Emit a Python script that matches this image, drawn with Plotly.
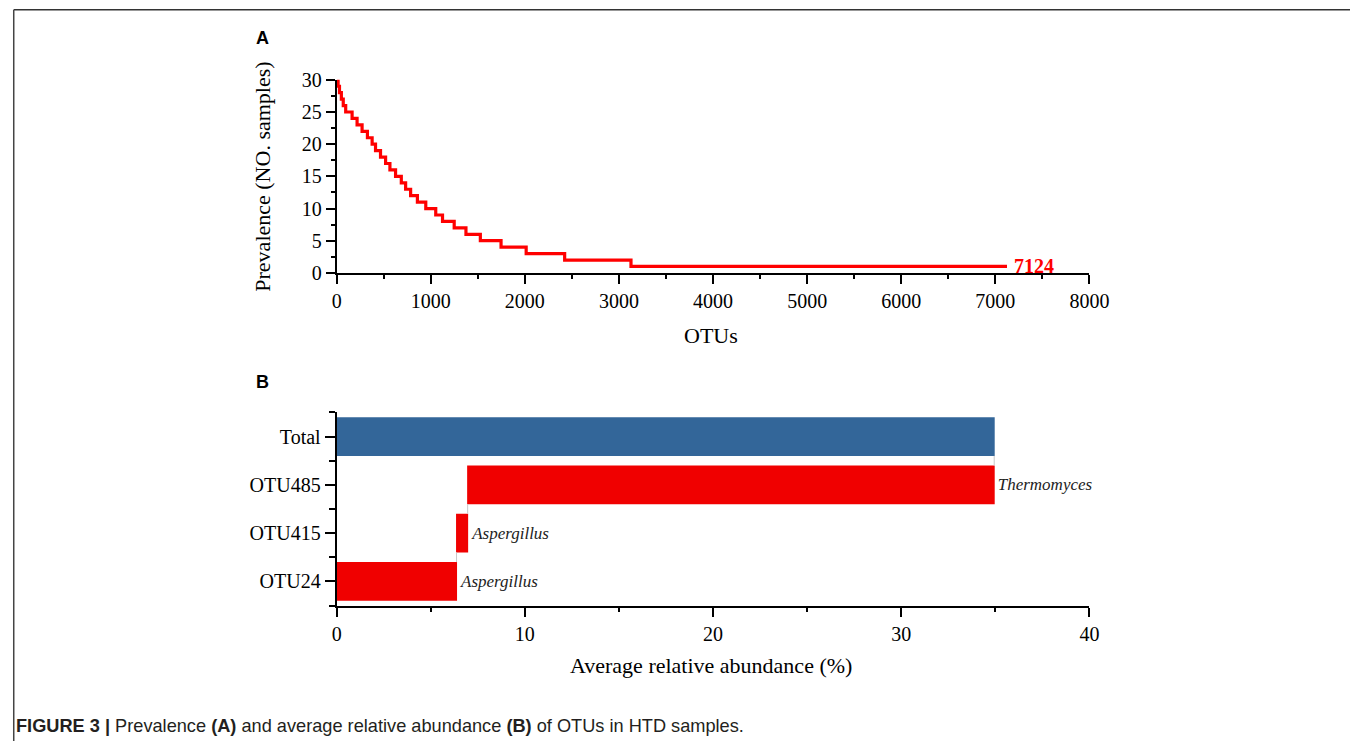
import plotly.graph_objects as go

# ---------------- Panel A data ----------------
prevalence_levels = list(range(30, 0, -1))  # 30 ... 1 samples
level_start_otu = [0, 15, 30, 50, 70, 96, 164, 217, 270, 327, 377, 413, 466, 520,
                   566, 626, 687, 733, 786, 858, 947, 1053, 1125, 1249, 1374, 1527,
                   1747, 2014, 2423, 3128]
n_otus = 7124

# ---------------- Panel B data ----------------
bar_categories = ["OTU24", "OTU415", "OTU485", "Total"]
otu_abundance = [6.37, 0.59, 27.98]
otu_genus = ["Aspergillus", "Aspergillus", "Thermomyces"]

# figure size and mapping from target picture pixels to paper fractions
W, H = 1370, 745
SX, OX = 0.98167, 12.9
SY, OY = 0.970, 19.3
SERIF = "Liberation Serif, Times New Roman, serif"
SANS = "Liberation Sans, Arial, sans-serif"


def px_x(s):
    return (s / SX - OX) / W


def px_y(s):
    return 1 - (s / SY - OY) / H


fig = go.Figure()

# Panel A: prevalence step curve
fig.add_trace(go.Scatter(
    x=level_start_otu + [n_otus],
    y=prevalence_levels + [prevalence_levels[-1]],
    mode="lines",
    line=dict(color="#ff0000", width=3.2, shape="hv"),
    xaxis="x", yaxis="y",
    showlegend=False, hoverinfo="skip",
))

# Panel B: cumulative abundance waterfall
fig.add_trace(go.Waterfall(
    orientation="h",
    y=list(range(len(bar_categories))),
    x=otu_abundance + [None],
    measure=["relative"] * len(otu_abundance) + ["total"],
    text=otu_genus + [""],
    textposition="outside",
    textfont=dict(family=SERIF, size=17, color="#222", style="italic"),
    increasing=dict(marker=dict(color="#f00000", line=dict(width=0))),
    totals=dict(marker=dict(color="#336699", line=dict(width=0))),
    connector=dict(line=dict(color="#c8c8c8", width=1)),
    width=0.8,
    cliponaxis=False,
    constraintext="none",
    xaxis="x2", yaxis="y2",
    showlegend=False, hoverinfo="skip",
))

axis_common = dict(
    showline=True, linecolor="black", linewidth=2,
    ticks="outside", tickcolor="black", tickwidth=2,
    showgrid=False, zeroline=False,
    tickfont=dict(family=SERIF, size=20, color="black"),
)
minor_common = dict(ticklen=4, tickwidth=2, tickcolor="black", ticks="outside")

xdom = [px_x(336.3), px_x(1089)]

fig.update_layout(
    width=W, height=H,
    margin=dict(l=0, r=0, t=0, b=0),
    paper_bgcolor="white", plot_bgcolor="white",
    xaxis=dict(domain=xdom, anchor="y", range=[0, 8000], dtick=1000, ticklen=9,
               minor=dict(dtick=500, **minor_common), **axis_common),
    yaxis=dict(domain=[px_y(272.5), px_y(79.5)], anchor="x", range=[0, 30], dtick=5, ticklen=9,
               minor=dict(dtick=2.5, **minor_common), **axis_common),
    xaxis2=dict(domain=xdom, anchor="y2", range=[0, 40], dtick=10, ticklen=9,
                minor=dict(dtick=5, **minor_common), **axis_common),
    yaxis2=dict(domain=[px_y(605), px_y(412)], anchor="x2", range=[-0.5, 3.5],
                tickmode="array", tickvals=list(range(len(bar_categories))), ticktext=bar_categories,
                ticklen=10,
                minor=dict(tickmode="array", tickvals=[-0.5, 0.5, 1.5, 2.5, 3.5], ticklen=6,
                           tickwidth=2, tickcolor="black", ticks="outside"),
                **axis_common),
    waterfallgap=0.2,
)

title_font = dict(family=SERIF, size=22, color="black")
annotations = [
    dict(x=n_otus, y=prevalence_levels[-1], xref="x", yref="y", xanchor="left", yanchor="middle",
         xshift=5, text=f"<b>{n_otus}</b>", showarrow=False,
         font=dict(family=SERIF, size=20, color="#ff0000")),
    dict(x=px_x(711), y=px_y(335), xref="paper", yref="paper", xanchor="center", yanchor="middle",
         text="OTUs", showarrow=False, font=title_font),
    dict(x=px_x(262), y=px_y(176), xref="paper", yref="paper", xanchor="center", yanchor="middle",
         text="Prevalence (NO. samples)", textangle=-90, showarrow=False, font=title_font),
    dict(x=px_x(711), y=px_y(665), xref="paper", yref="paper", xanchor="center", yanchor="middle",
         text="Average relative abundance (%)", showarrow=False, font=title_font),
    dict(x=px_x(262), y=px_y(38), xref="paper", yref="paper", xanchor="center", yanchor="middle",
         text="<b>A</b>", showarrow=False, font=dict(family=SANS, size=18, color="black")),
    dict(x=px_x(262), y=px_y(382), xref="paper", yref="paper", xanchor="center", yanchor="middle",
         text="<b>B</b>", showarrow=False, font=dict(family=SANS, size=18, color="black")),
    dict(x=max(px_x(10), 1.5 / W), y=px_y(725), xref="paper", yref="paper", xanchor="left", yanchor="middle",
         text="<b>FIGURE 3 |</b> Prevalence <b>(A)</b> and average relative abundance <b>(B)</b> of OTUs in HTD samples.",
         showarrow=False, font=dict(family=SANS, size=18.2, color="#231f20")),
]
fig.update_layout(annotations=annotations)

top_y = max(px_y(9.5), 1 - 0.75 / H)
left_x = max(px_x(8), 0.75 / W)
shapes = [
    dict(type="line", xref="paper", yref="paper", x0=left_x, x1=px_x(1356), y0=top_y, y1=top_y,
         line=dict(color="#333333", width=1.5)),
    dict(type="line", xref="paper", yref="paper", x0=left_x, x1=left_x, y0=top_y, y1=0,
         line=dict(color="#444444", width=1.5)),
    dict(type="line", xref="paper", yref="paper", x0=px_x(1355.5), x1=px_x(1355.5), y0=top_y, y1=0,
         line=dict(color="#777777", width=2)),
]
fig.update_layout(shapes=shapes)

fig.write_html("out.html")
